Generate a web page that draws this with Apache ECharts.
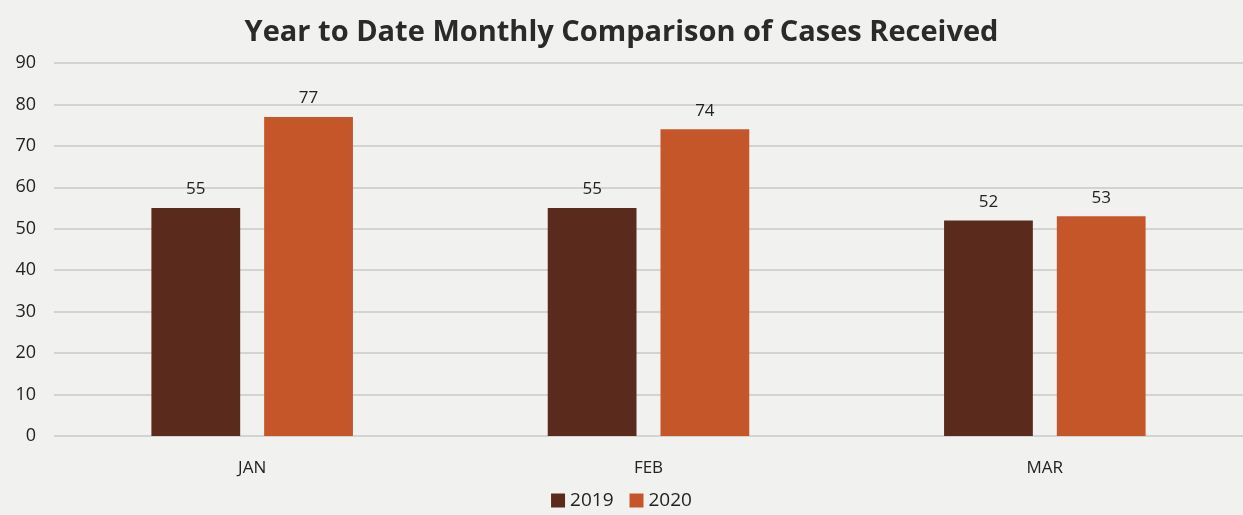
<!DOCTYPE html>
<html>
<head>
<meta charset="utf-8">
<script src="https://cdn.jsdelivr.net/npm/echarts@6/dist/echarts.min.js"></script>
<style>
html,body{margin:0;padding:0;background:#f1f1ef;}
#c{width:1243px;height:515px;}
</style>
</head>
<body>
<div id="c"></div>
<script>
const categories = ['JAN', 'FEB', 'MAR'];
const series2019 = [55, 55, 52];
const series2020 = [77, 74, 53];
const yTicks = [0, 10, 20, 30, 40, 50, 60, 70, 80, 90];

const font = '"Open Sans", "Noto Sans", sans-serif';
const chart = echarts.init(document.getElementById('c'));
chart.setOption({
  backgroundColor: '#f1f1ef',
  animation: false,
  textStyle: { fontFamily: font },
  title: {
    text: 'Year to Date Monthly Comparison of Cases Received',
    left: 'center',
    top: 13,
    textStyle: { fontFamily: font, fontSize: 29, fontWeight: 'bold', color: '#2a2a2a' }
  },
  legend: {
    bottom: 0,
    left: 'center',
    itemWidth: 14,
    itemHeight: 14,
    itemGap: 16,
    icon: 'rect',
    textStyle: { fontFamily: font, fontSize: 19, color: '#222' },
    data: ['2019', '2020']
  },
  grid: { left: 54, right: 0, top: 63, bottom: 79 },
  xAxis: {
    type: 'category',
    data: categories,
    axisLine: { show: false },
    axisTick: { show: false },
    axisLabel: { fontFamily: font, fontSize: 17, color: '#222', margin: 24 }
  },
  yAxis: {
    type: 'value',
    min: yTicks[0],
    max: yTicks[yTicks.length - 1],
    interval: 10,
    axisLine: { show: false },
    axisTick: { show: false },
    axisLabel: { fontFamily: font, fontSize: 18, color: '#222', margin: 18 },
    splitLine: { lineStyle: { color: '#c8c8c8', width: 1.5 } }
  },
  series: [
    {
      name: '2019', type: 'bar', data: series2019,
      barWidth: '22.4%', barGap: '27%',
      itemStyle: { color: '#5a2a1d' },
      label: { show: true, position: 'top', distance: 10, fontFamily: font, fontSize: 17, color: '#222' }
    },
    {
      name: '2020', type: 'bar', data: series2020,
      barWidth: '22.4%',
      itemStyle: { color: '#c4562a' },
      label: { show: true, position: 'top', distance: 10, fontFamily: font, fontSize: 17, color: '#222' }
    }
  ]
});
</script>
</body>
</html>
